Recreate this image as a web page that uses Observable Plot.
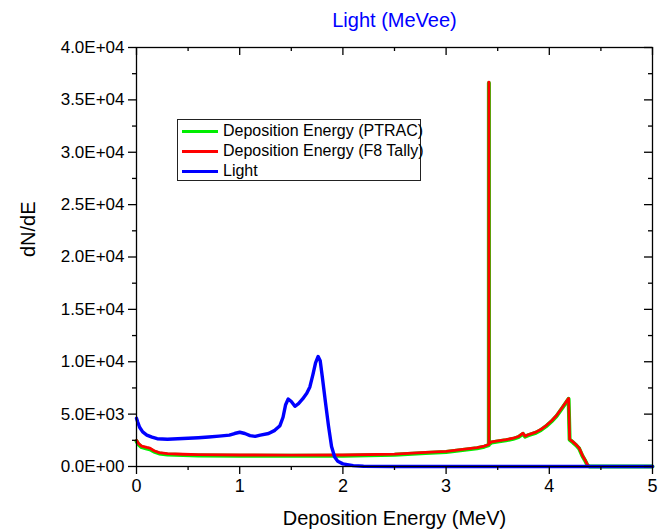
<!DOCTYPE html>
<html>
<head>
<meta charset="utf-8">
<script src="https://cdn.jsdelivr.net/npm/d3@7"></script>
<script src="https://cdn.jsdelivr.net/npm/@observablehq/plot@0.6"></script>
<style>
  body { margin: 0; background: #fff; }
  #wrap { position: relative; width: 672px; height: 530px; font-family: Arial, "Liberation Sans", sans-serif; }
  #legend { position: absolute; left: 177px; top: 119px; width: 244px; height: 62px; border: 1px solid #222; background: #fff; box-sizing: border-box; }
  #legend .row { position: absolute; left: 4px; height: 20px; display: flex; align-items: center; font-size: 16px; color: #000; white-space: nowrap; }
  #legend .swatch { width: 36px; height: 3px; margin-right: 5px; }
</style>
</head>
<body>
<div id="wrap"></div>
<script>
// Deposition energy spectra (PTRAC and F8 tally) share one energy grid
const depEnergy = [0, 0.02, 0.05, 0.1, 0.13, 0.17, 0.22, 0.3, 0.45, 0.6, 1.0, 1.5, 2.0, 2.5, 2.8, 3.0, 3.1, 3.2, 3.3, 3.37, 3.414, 3.4145, 3.415, 3.4155, 3.44, 3.5, 3.58, 3.65, 3.7, 3.745, 3.765, 3.8, 3.87, 3.92, 3.97, 4.02, 4.07, 4.13, 4.187, 4.197, 4.23, 4.26, 4.29, 4.32, 4.345, 4.37, 4.39, 5.0];
const f8Tally = [2500, 2200, 1950, 1820, 1750, 1500, 1330, 1230, 1170, 1130, 1100, 1090, 1100, 1190, 1350, 1450, 1560, 1680, 1800, 1950, 2100, 36700, 36700, 2180, 2350, 2450, 2560, 2700, 2860, 3180, 2900, 3050, 3280, 3550, 3910, 4350, 4870, 5700, 6500, 2600, 2350, 2080, 1750, 1080, 650, 150, 0, 0];
const ptrac = [2420, 2100, 1850, 1720, 1650, 1420, 1250, 1150, 1090, 1050, 1030, 1020, 1030, 1120, 1290, 1390, 1500, 1620, 1740, 1890, 2050, 36600, 36600, 2120, 2290, 2390, 2500, 2640, 2800, 3120, 2850, 2990, 3220, 3490, 3850, 4290, 4810, 5640, 6450, 2560, 2300, 2030, 1700, 1030, 600, 100, 0, 0];

// Light output spectrum
const lightEnergy = [0, 0.01, 0.03, 0.06, 0.1, 0.15, 0.2, 0.3, 0.4, 0.5, 0.6, 0.7, 0.8, 0.9, 0.95, 1.0, 1.05, 1.1, 1.15, 1.2, 1.28, 1.34, 1.39, 1.42, 1.445, 1.47, 1.5, 1.535, 1.57, 1.61, 1.65, 1.68, 1.71, 1.735, 1.76, 1.78, 1.8, 1.83, 1.86, 1.89, 1.92, 1.95, 2.0, 2.1, 2.2, 2.5, 5.0];
const light = [4600, 4300, 3750, 3300, 3000, 2800, 2650, 2600, 2650, 2700, 2750, 2820, 2900, 3000, 3150, 3270, 3150, 2950, 2880, 3000, 3150, 3450, 3900, 4700, 5900, 6450, 6200, 5750, 6000, 6450, 7000, 7600, 8800, 9900, 10500, 10100, 8600, 6200, 3900, 1900, 900, 500, 250, 80, 20, 0, 0];

// Axis ticks
const xMajor = [0, 1, 2, 3, 4, 5];
const xMinor = [0.5, 1.5, 2.5, 3.5, 4.5];
const yMajor = d3.range(0, 40001, 5000);
const yMinor = d3.range(2500, 40000, 5000);

const seriesNames = ["Deposition Energy (PTRAC)", "Deposition Energy (F8 Tally)", "Light"];
const seriesColors = ["#00ee00", "#ff0000", "#0000ff"];

const ptracData = depEnergy.map((e, i) => ({e, v: ptrac[i]}));
const f8Data = depEnergy.map((e, i) => ({e, v: f8Tally[i]}));
const lightData = lightEnergy.map((e, i) => ({e, v: light[i]}));

const sciFormat = d => {
  const [m, ex] = d.toExponential(1).split("e");
  const n = Math.abs(+ex);
  return `${m}E${+ex < 0 ? "-" : "+"}${String(n).padStart(2, "0")}`;
};

const W = 672, H = 530;
const mL = 136, mR = 20, mT = 47, mB = 64;
const innerW = W - mL - mR, innerH = H - mT - mB;

const chart = Plot.plot({
  width: W,
  height: H,
  marginLeft: mL,
  marginRight: mR,
  marginTop: mT,
  marginBottom: mB,
  style: {fontFamily: "Arial, 'Liberation Sans', sans-serif", background: "#fff", color: "#000", overflow: "visible"},
  x: {domain: [0, 5], label: null},
  y: {domain: [0, 40000], label: null},
  marks: [
    Plot.line(ptracData, {x: "e", y: "v", stroke: seriesColors[0], strokeWidth: 4, curve: "linear"}),
    Plot.line(f8Data, {x: "e", y: "v", stroke: seriesColors[1], strokeWidth: 2.8, curve: "linear"}),
    Plot.line(lightData, {x: "e", y: "v", stroke: seriesColors[2], strokeWidth: 3.4, curve: "linear"}),
    Plot.frame({stroke: "#000", strokeWidth: 1.3}),
    // outward ticks on the left and bottom
    Plot.axisY(yMajor, {tickSize: 8, tickPadding: 4, tickFormat: sciFormat, fontSize: 17, strokeWidth: 1.3, label: null}),
    Plot.axisY(yMinor, {tickSize: 4, tickFormat: () => "", strokeWidth: 1.3, label: null}),
    Plot.axisX(xMajor, {tickSize: 8, tickPadding: 5, tickFormat: d => String(d), fontSize: 18, strokeWidth: 1.3, label: null}),
    Plot.axisX(xMinor, {tickSize: 4, tickFormat: () => "", strokeWidth: 1.3, label: null}),
    // inward ticks on the top and right
    Plot.tickX(xMajor, {x: d => d, insetBottom: innerH - 8, stroke: "#000", strokeWidth: 1.3}),
    Plot.tickX(xMinor, {x: d => d, insetBottom: innerH - 4, stroke: "#000", strokeWidth: 1.3}),
    Plot.tickY(yMajor, {y: d => d, insetLeft: innerW - 8, stroke: "#000", strokeWidth: 1.3}),
    Plot.tickY(yMinor, {y: d => d, insetLeft: innerW - 4, stroke: "#000", strokeWidth: 1.3}),
    // titles
    Plot.text(["Light (MeVee)"], {frameAnchor: "top", lineAnchor: "middle", dy: -27, fill: "#0000ff", fontSize: 20}),
    Plot.text(["dN/dE"], {frameAnchor: "left", dx: -108, rotate: -90, fill: "#000", fontSize: 20}),
    Plot.text(["Deposition Energy (MeV)"], {frameAnchor: "bottom", lineAnchor: "middle", dy: 52, fill: "#000", fontSize: 20})
  ]
});

const wrap = document.getElementById("wrap");
wrap.appendChild(chart);

// legend box inside the plot area
const legend = document.createElement("div");
legend.id = "legend";
seriesNames.forEach((name, i) => {
  const row = document.createElement("div");
  row.className = "row";
  row.style.top = (1 + i * 20) + "px";
  const sw = document.createElement("span");
  sw.className = "swatch";
  sw.style.background = seriesColors[i];
  row.appendChild(sw);
  row.appendChild(document.createTextNode(name));
  legend.appendChild(row);
});
wrap.appendChild(legend);
</script>
</body>
</html>
